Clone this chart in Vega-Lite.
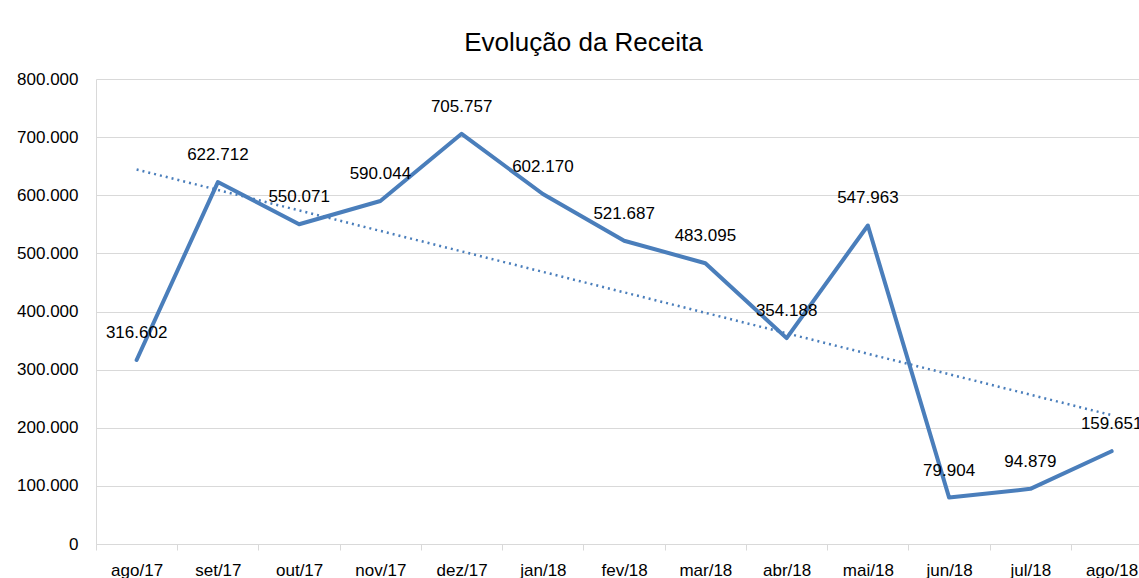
{
  "$schema": "https://vega.github.io/schema/vega-lite/v6.json",
  "width": 1043,
  "height": 465,
  "autosize": {"type": "none"},
  "padding": {"left": 96, "top": 79, "right": 0, "bottom": 34},
  "config": {
    "locale": {"number": {"decimal": ",", "thousands": ".", "grouping": [3], "currency": ["R$", ""]}},
    "view": {"stroke": null},
    "font": "Liberation Sans",
    "axis": {"labelFont": "Liberation Sans", "labelColor": "#000000", "labelFontSize": 17, "domainColor": "#d9d9d9", "gridColor": "#d9d9d9", "tickColor": "#d9d9d9", "title": null}
  },
  "title": {"text": "Evolução da Receita", "fontSize": 26, "fontWeight": "normal", "font": "Liberation Sans", "color": "#000000", "anchor": "middle", "dx": -34, "offset": 14},
  "data": {"values": [
    {"mes": "ago/17", "i": 1, "receita": 316602},
    {"mes": "set/17", "i": 2, "receita": 622712},
    {"mes": "out/17", "i": 3, "receita": 550071},
    {"mes": "nov/17", "i": 4, "receita": 590044},
    {"mes": "dez/17", "i": 5, "receita": 705757},
    {"mes": "jan/18", "i": 6, "receita": 602170},
    {"mes": "fev/18", "i": 7, "receita": 521687},
    {"mes": "mar/18", "i": 8, "receita": 483095},
    {"mes": "abr/18", "i": 9, "receita": 354188},
    {"mes": "mai/18", "i": 10, "receita": 547963},
    {"mes": "jun/18", "i": 11, "receita": 79904},
    {"mes": "jul/18", "i": 12, "receita": 94879},
    {"mes": "ago/18", "i": 13, "receita": 159651}
  ]},
  "encoding": {
    "x": {"field": "i", "type": "quantitative",
      "scale": {"domain": [0.5, 13.337], "nice": false, "zero": false},
      "axis": {"values": [1,2,3,4,5,6,7,8,9,10,11,12,13], "grid": false, "tickSize": 6, "tickOffset": -40.625, "labelOffset": 40.625, "labelPadding": 12, "labelFlush": false, "labelOverlap": false,
        "labelExpr": "['ago/17','set/17','out/17','nov/17','dez/17','jan/18','fev/18','mar/18','abr/18','mai/18','jun/18','jul/18','ago/18'][datum.value-1]"}},
    "y": {"field": "receita", "type": "quantitative",
      "scale": {"domain": [0, 800000], "nice": false},
      "axis": {"values": [0,100000,200000,300000,400000,500000,600000,700000,800000], "format": ",.0f", "ticks": false, "labelPadding": 18, "grid": true}}
  },
  "layer": [
    {"mark": {"type": "line", "color": "#4A7EBB", "strokeWidth": 4, "strokeJoin": "round", "strokeCap": "round"}},
    {"mark": {"type": "text", "dy": -27, "fontSize": 17, "baseline": "middle", "align": "center", "color": "#000000"},
      "encoding": {"text": {"field": "receita", "type": "quantitative", "format": ",.0f"}}},
    {"transform": [{"regression": "receita", "on": "i"}],
      "mark": {"type": "line", "color": "#4A7EBB", "strokeWidth": 2.5, "strokeDash": [2, 4], "strokeCap": "butt"}}
  ]
}
